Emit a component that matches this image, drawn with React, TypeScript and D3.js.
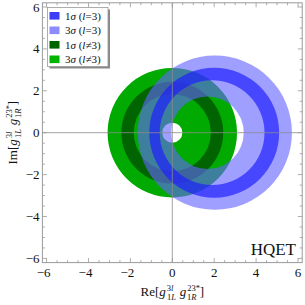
import React from 'react';
import * as d3 from 'd3';

// allowed regions, each one an outer circle minus an inner circle (centres on the real axis)
const regionKeys = ['s3_other', 's1_other', 's3_tau', 's1_tau'];
const outerCx = [0, 0, 2.03, 2.0];
const outerR = [3.09, 2.43, 3.68, 3.1];
const innerCx = [0, 0, 1.68, 1.9];
const innerR = [0.48, 1.84, 1.73, 2.5];

const legendSigma = ['1', '3', '1', '3'];
const legendRel = ['=', '=', '≠', '≠'];
const legendKeys = ['s1_tau', 's3_tau', 's1_other', 's3_other'];

const majorTicks = [-6, -4, -2, 0, 2, 4, 6];
const minorTicks = d3.range(-6, 6.01, 0.5).filter(v => !majorTicks.includes(v));

const fills: Record<string, { color: string; opacity: number; swatch: string }> = {
  s3_other: { color: '#00aa00', opacity: 1, swatch: '#00b400' },
  s1_other: { color: '#006400', opacity: 1, swatch: '#006400' },
  s3_tau: { color: '#6464ff', opacity: 0.62, swatch: '#8c8cff' },
  s1_tau: { color: '#1e1eff', opacity: 0.68, swatch: '#3c3cf5' },
};

const W = 305;
const H = 305;
const plot = { left: 42.4, right: 302.2, top: 2.8, bottom: 262.6 };
const serif = '"Liberation Serif", "DejaVu Serif", serif';

const x = d3.scaleLinear().domain([-6.2, 6.2]).range([plot.left, plot.right]);
const y = d3.scaleLinear().domain([-6.2, 6.2]).range([plot.bottom, plot.top]);

function ringPath(i: number) {
  const p = d3.path();
  const ocx = x(outerCx[i]);
  const cy = y(0);
  const or = x(outerR[i]) - x(0);
  p.moveTo(ocx + or, cy);
  p.arc(ocx, cy, or, 0, Math.PI * 2);
  p.closePath();
  const icx = x(innerCx[i]);
  const ir = x(innerR[i]) - x(0);
  p.moveTo(icx + ir, cy);
  p.arc(icx, cy, ir, 0, Math.PI * 2);
  p.closePath();
  return p.toString();
}

const fmt = (v: number) => (v < 0 ? `−${-v}` : `${v}`);

// g^{sup}_{sub} pair, written as flat tspans
const Coupling: React.FC<{ sup: [string, string]; sub: [string, string]; back: number; fwd: number }> = ({ sup, sub, back, fwd }) => (
  <>
    <tspan fontStyle="italic">g</tspan>
    <tspan fontSize={8.5} dx={1} dy={-5.5}>{sup[0]}</tspan>
    <tspan fontSize={8.5} fontStyle="italic">{sup[1]}</tspan>
    <tspan fontSize={8.5} dx={-back} dy={9.5}>{sub[0]}</tspan>
    <tspan fontSize={8.5} fontStyle="italic">{sub[1]}</tspan>
    <tspan dx={fwd} dy={-4}>{' '}</tspan>
  </>
);

const AxisTitle: React.FC<{ prefix: string }> = ({ prefix }) => (
  <>
    <tspan>{prefix}[</tspan>
    <Coupling sup={['3', 'l']} sub={['1', 'L']} back={6.5} fwd={0.5} />
    <Coupling sup={['23*', '']} sub={['1', 'R']} back={12.8} fwd={2.5} />
    <tspan dx={-2.5}>]</tspan>
  </>
);

export default function App() {
  const x0 = x(0);
  const y0 = y(0);
  return (
    <svg width={W} height={H} style={{ position: 'absolute', left: 0, top: 0 }} fontFamily={serif}>
      <rect width={W} height={H} fill="#fff" />

      {/* regions */}
      {regionKeys.map((k, i) => (
        <path key={k} d={ringPath(i)} fill={fills[k].color} fillOpacity={fills[k].opacity} fillRule="evenodd" />
      ))}

      {/* zero axes */}
      <line x1={plot.left} x2={plot.right} y1={y0} y2={y0} stroke="#8a8a8a" strokeWidth={0.8} />
      <line x1={x0} x2={x0} y1={plot.top} y2={plot.bottom} stroke="#8a8a8a" strokeWidth={0.8} />

      {/* frame */}
      <rect x={plot.left} y={plot.top} width={plot.right - plot.left} height={plot.bottom - plot.top}
        fill="none" stroke="#999" strokeWidth={1} />

      {/* ticks */}
      <g stroke="#999" strokeWidth={0.8}>
        {majorTicks.map(v => (
          <g key={`M${v}`}>
            <line x1={x(v)} x2={x(v)} y1={plot.bottom} y2={plot.bottom - 4.5} />
            <line x1={x(v)} x2={x(v)} y1={plot.top} y2={plot.top + 4.5} />
            <line y1={y(v)} y2={y(v)} x1={plot.left} x2={plot.left + 4.5} />
            <line y1={y(v)} y2={y(v)} x1={plot.right} x2={plot.right - 4.5} />
          </g>
        ))}
        {minorTicks.map(v => (
          <g key={`m${v}`}>
            <line x1={x(v)} x2={x(v)} y1={plot.bottom} y2={plot.bottom - 2.5} />
            <line x1={x(v)} x2={x(v)} y1={plot.top} y2={plot.top + 2.5} />
            <line y1={y(v)} y2={y(v)} x1={plot.left} x2={plot.left + 2.5} />
            <line y1={y(v)} y2={y(v)} x1={plot.right} x2={plot.right - 2.5} />
          </g>
        ))}
      </g>

      {/* tick labels */}
      <g fontSize={13} fill="#111">
        {majorTicks.map(v => (
          <text key={`xl${v}`} x={x(v) + (v < 0 ? -3 : 0)} y={277} textAnchor="middle">{fmt(v)}</text>
        ))}
        {majorTicks.map(v => (
          <text key={`yl${v}`} x={39.5} y={y(v) + 4.5} textAnchor="end">{fmt(v)}</text>
        ))}
      </g>

      {/* axis titles */}
      <text x={x0} y={296} textAnchor="middle" fontSize={13} fill="#111">
        <AxisTitle prefix="Re" />
      </text>
      <text transform={`translate(17,${y0}) rotate(-90)`} textAnchor="middle" fontSize={13} fill="#111">
        <AxisTitle prefix="Im" />
      </text>

      {/* HQET */}
      <text x={296} y={255} textAnchor="end" fontSize={17} fill="#111">HQET</text>

      {/* legend */}
      <g transform="translate(47.5,7.5)">
        <rect x={2} y={2} width={60.5} height={59} fill="#888" />
        <rect x={0} y={0} width={60.5} height={59} fill="#fff" stroke="#999" strokeWidth={0.8} />
        {legendKeys.map((k, i) => (
          <g key={k} transform={`translate(0,${8.3 + i * 14.5})`}>
            <rect x={2} y={-3.8} width={10} height={7.6} fill={fills[k].swatch} />
            <text x={17.5} y={4} fontSize={11} fill="#111">
              <tspan>{legendSigma[i]}</tspan>
              <tspan fontStyle="italic">σ</tspan>
              <tspan> (</tspan>
              <tspan fontStyle="italic">l</tspan>
              <tspan>{legendRel[i]}3)</tspan>
            </text>
          </g>
        ))}
      </g>
    </svg>
  );
}
